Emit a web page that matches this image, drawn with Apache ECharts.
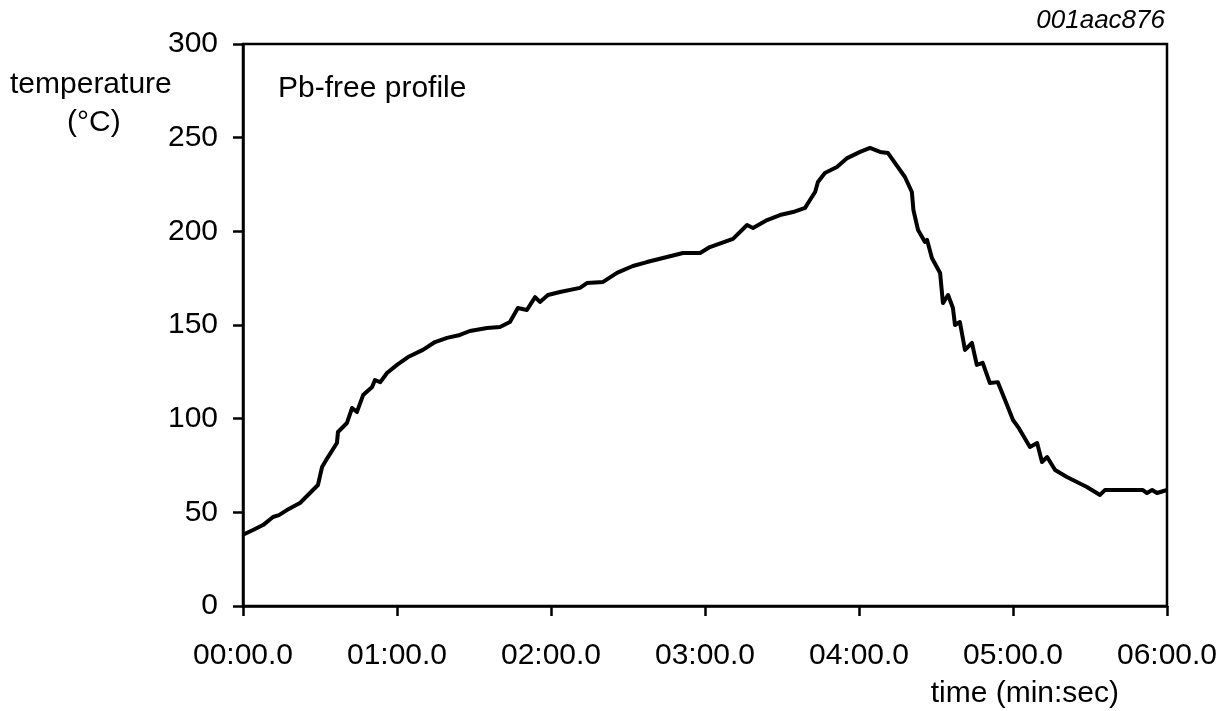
<!DOCTYPE html>
<html>
<head>
<meta charset="utf-8">
<script src="https://cdn.jsdelivr.net/npm/echarts@6/dist/echarts.min.js"></script>
<style>
  html, body { margin: 0; padding: 0; background: #fff; }
  #chart { width: 1227px; height: 711px; }
</style>
</head>
<body>
<div id="chart"></div>
<script>
// time in seconds, temperature in °C
var timeSec = [
  0, 3.9, 7.8, 11.7, 14, 17.1, 22.2, 26.1, 29.2, 30.8, 33.1, 36.6, 37, 40.5, 42.5, 44.4,
  46.8, 50.3, 51.4, 53.5, 56.1, 60, 64.3, 70.1, 74.8, 79.5, 84.5, 88.4, 95.1, 100.1,
  104, 107.1, 110.6, 113.8, 115.7, 118.8, 123.5, 131.3, 134, 140.3, 145.7, 151.9,
  157.4, 165.2, 171.4, 178.1, 181.9, 190.9, 196.4, 198.7, 204.2, 209.2, 214.3, 219,
  220.9, 222.9, 224, 226.7, 231.4, 235.4, 240.4, 244.3, 248.2, 251.3, 254, 257.9,
  260.6, 261.2, 263, 265.7, 266.5, 268.4, 271.6, 272.7, 274.7, 276.6, 277.4, 279.3,
  281.3, 284, 285.9, 288.2, 291, 294.1, 296.9, 300, 302, 306.6, 309.4, 311.3, 313.3,
  316.4, 321, 328.8, 333.9, 335.8, 350.6, 352.2, 354.2, 356.1, 360
];
var tempC = [
  38, 40.6, 43.2, 47.5, 48.5, 51.2, 55, 60.3, 64.6, 74.2, 79.5, 87, 92.9, 97.7, 105.7, 103.6,
  112.6, 116.9, 120.6, 119.5, 124.4, 128.7, 132.9, 136.7, 140.9, 143.1, 144.7, 146.8, 148.4, 148.9,
  151.6, 159.1, 158, 164.9, 162.3, 166, 167.6, 169.8, 172.4, 173, 177.8, 181.5,
  183.6, 186.3, 188.4, 188.4, 191.6, 196, 203.4, 201.8, 206, 208.7, 210.3, 212.5,
  216.7, 221, 226.3, 231.1, 234.3, 239.1, 242.4, 244.5, 242.4, 241.8, 236.5, 229,
  221, 211.4, 200.7, 194.3, 195.5, 185.8, 177.8, 161.7, 166, 159.1, 150, 151.6,
  136.7, 140.4, 128.7, 129.8, 119, 119.5, 110, 99.3, 95.5, 84.9, 87, 76.9, 79.5,
  72.6, 68.9, 63.5, 59.3, 61.9, 61.9, 60.3, 61.9, 60.3, 61.9
];
var yTicks = [0, 50, 100, 150, 200, 250, 300];
var xTicks = [0, 60, 120, 180, 240, 300, 360];

var profile = timeSec.map(function (t, i) { return [t, tempC[i]]; });

function fmtTime(sec) {
  var m = Math.floor(sec / 60);
  var s = sec % 60;
  return (m < 10 ? '0' : '') + m + ':' + (s < 10 ? '0' : '') + s + '.0';
}

var chart = echarts.init(document.getElementById('chart'));
var font = '"Liberation Sans", Arial, sans-serif';

chart.setOption({
  backgroundColor: '#fff',
  animation: false,
  grid: {
    left: 243,
    right: 60,
    top: 44,
    bottom: 105,
    show: true,
    borderColor: '#000',
    borderWidth: 2.5
  },
  xAxis: {
    type: 'value',
    min: xTicks[0],
    max: xTicks[xTicks.length - 1],
    interval: 60,
    axisLine: { lineStyle: { color: '#000', width: 2.5 } },
    axisTick: { show: true, inside: false, length: 10, lineStyle: { color: '#000', width: 2.5 } },
    axisLabel: {
      color: '#000', fontSize: 30, fontFamily: font, margin: 35,
      formatter: function (v) { return fmtTime(v); }
    },
    splitLine: { show: false }
  },
  yAxis: {
    type: 'value',
    min: yTicks[0],
    max: yTicks[yTicks.length - 1],
    interval: 50,
    axisLine: { show: true, lineStyle: { color: '#000', width: 2.5 } },
    axisTick: { show: true, inside: false, length: 10, lineStyle: { color: '#000', width: 2.5 } },
    axisLabel: { color: '#000', fontSize: 30, fontFamily: font, margin: 25 },
    splitLine: { show: false }
  },
  series: [
    {
      type: 'line',
      data: profile,
      symbol: 'none',
      smooth: false,
      lineStyle: { color: '#000', width: 4, join: 'round' }
    }
  ],
  graphic: [
    {
      type: 'text', left: 10, top: 70,
      style: { text: 'temperature', fill: '#000', font: '30px ' + font }
    },
    {
      type: 'text', left: 67, top: 108,
      style: { text: '(°C)', fill: '#000', font: '30px ' + font }
    },
    {
      type: 'text', left: 278, top: 74,
      style: { text: 'Pb-free profile', fill: '#000', font: '30px ' + font }
    },
    {
      type: 'text', right: 62, top: 8,
      style: { text: '001aac876', fill: '#000', font: 'italic 26px ' + font }
    },
    {
      type: 'text', right: 108, top: 679,
      style: { text: 'time (min:sec)', fill: '#000', font: '30px ' + font }
    }
  ]
});
</script>
</body>
</html>
